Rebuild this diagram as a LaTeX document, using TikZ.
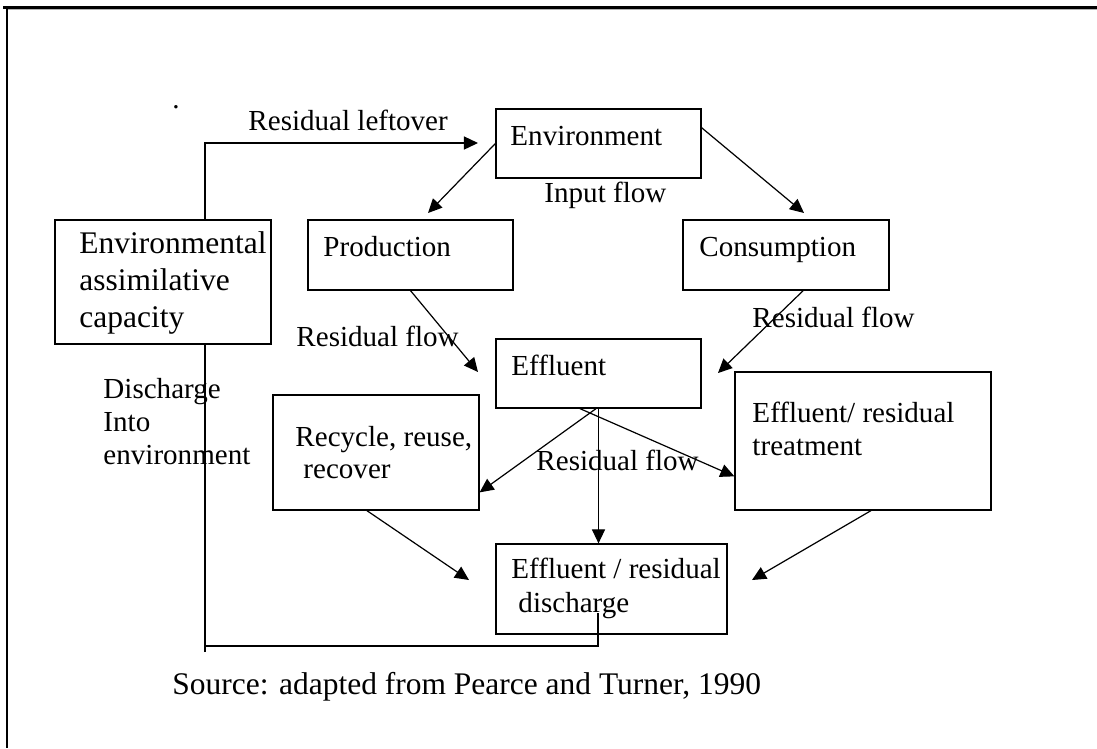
\documentclass[tikz,border=0pt]{standalone}
\usepackage{fontspec}
\setmainfont{Liberation Serif}
\usetikzlibrary{arrows.meta,fit,calc}
\begin{document}
\begin{tikzpicture}[x=0.413pt,y=-0.413pt,
  box/.style={draw,line width=0.5pt,inner sep=0pt,rectangle},
  lbl/.style={inner sep=0pt,anchor=base west,font=\fontsize{12pt}{14pt}\selectfont},
  lblb/.style={lbl,font=\fontsize{13pt}{15pt}\selectfont},
  arr/.style={line width=0.5pt,-{Triangle[length=5.8pt,width=5.4pt]}},
  ln/.style={line width=0.5pt}]
\useasboundingbox (0,0) rectangle (1097,748);
% frame
\draw[line width=1.1pt] (3,7.5) -- (1097,7.5);
\draw[gray!60,line width=0.4pt] (7,9.9) -- (1097,9.9);
\draw[line width=0.6pt] (7,7) -- (7,748);
% boxes
\node[box,fit={(496,109)(701,178)}] (env) {};
\node[box,fit={(308,220)(513,290)}] (prod) {};
\node[box,fit={(683,220)(889,290)}] (cons) {};
\node[box,fit={(55,220)(271,344)}] (assim) {};
\node[box,fit={(496,339)(701,408)}] (eff) {};
\node[box,fit={(273,395)(479,510)}] (rec) {};
\node[box,fit={(735,372)(991,510)}] (treat) {};
\node[box,fit={(496,544)(727,634)}] (dis) {};
% texts
\node[lbl] (dot) at (172,108) {.};
\node[lbl] (tlo) at (248,130) {Residual leftover};
\node[lbl] (tenv) at (510,145) {Environment};
\node[lbl] (tin) at (544,202) {Input flow};
\node[lbl] (tprod) at (323,256) {Production};
\node[lbl] (tcons) at (699,256) {Consumption};
\node[lblb] (ta1) at (79,253) {Environmental};
\node[lblb] (ta2) at (79,290) {assimilative};
\node[lblb] (ta3) at (79,327) {capacity};
\node[lbl] (trf1) at (296,346) {Residual flow};
\node[lbl] (trf2) at (752,327) {Residual flow};
\node[lbl] (teff) at (511,375) {Effluent};
\node[lbl] (td1) at (103,398) {Discharge};
\node[lbl] (td2) at (103,431) {Into};
\node[lbl] (td3) at (103,464) {environment};
\node[lbl] (tr1) at (295,446) {Recycle, reuse,};
\node[lbl] (tr2) at (303,478) {recover};
\node[lbl] (tt1) at (752,422) {Effluent/ residual};
\node[lbl] (tt2) at (752,455) {treatment};
\node[lbl] (trf3) at (536,470) {Residual flow};
\node[lbl] (tdis1) at (511,578) {Effluent / residual};
\node[lbl] (tdis2) at (518,612) {discharge};
\node[lblb] (tsrc) at (172,694) {Source: adapted from Pearce and Turner, 1990};
% coordinates for free ends
\coordinate (lvx) at (205,143);
\coordinate (lotip) at (478,143);
\coordinate (ptip) at (428,213);
\coordinate (ctip) at (804,213);
\coordinate (etipl) at (478,372);
\coordinate (etipr) at (718,373);
\coordinate (dtipl) at (469,580);
\coordinate (dtipr) at (752,580);
\coordinate (lpin) at (598,613);
\coordinate (lpc) at (598,646);
\coordinate (lpl) at (205,646);
\coordinate (lpe) at (205,652);
% connectors
\draw[arr] (assim.north -| lvx) -- (lvx) -- (lotip);
\draw[arr] (env.west) -- (ptip);
\draw[arr] ($(env.north east)!0.275!(env.south east)$) -- (ctip);
\draw[arr] (prod.south) -- (etipl);
\draw[arr] ($(cons.south west)!0.583!(cons.south east)$) -- (etipr);
\draw[arr] ($(eff.south west)!0.488!(eff.south east)$) -- ($(rec.north east)!0.843!(rec.south east)$);
\draw[arr] ($(eff.south west)!0.41!(eff.south east)$) -- ($(treat.north west)!0.754!(treat.south west)$);
\draw[arr] (eff.south) -- (eff.south |- dis.north);
\draw[arr] ($(rec.south west)!0.456!(rec.south east)$) -- (dtipl);
\draw[arr] ($(treat.south west)!0.531!(treat.south east)$) -- (dtipr);
\draw[ln] (lpin) -- (lpc) -- (lpl);
\draw[ln] (lpe) -- (assim.south -| lvx);
\end{tikzpicture}
\end{document}
